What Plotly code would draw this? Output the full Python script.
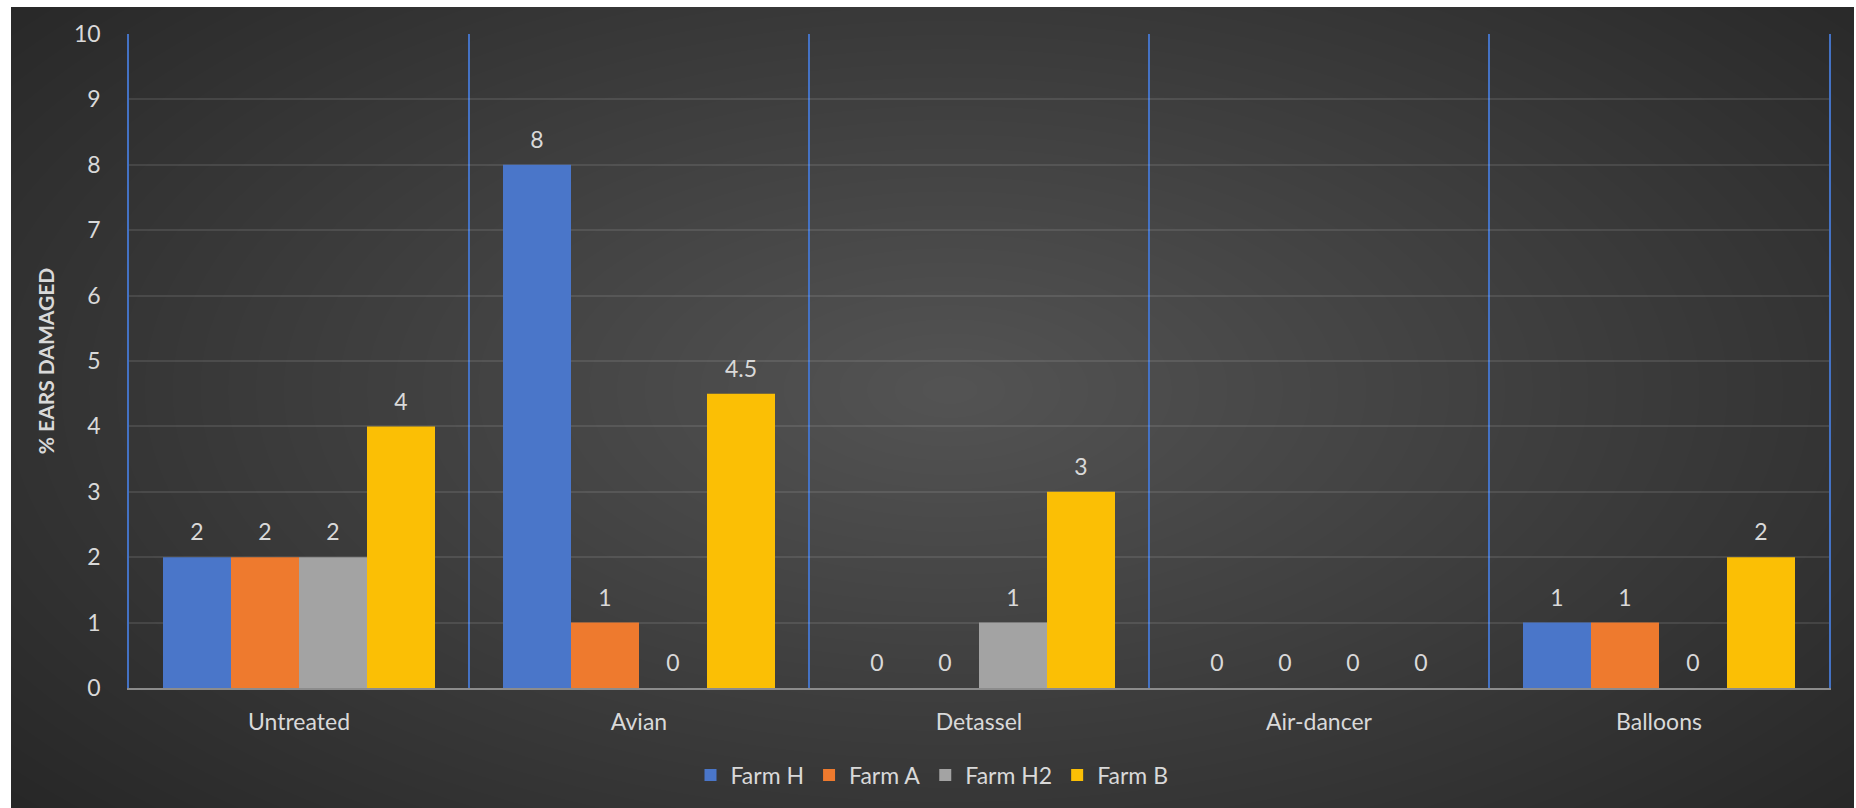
import plotly.graph_objects as go

# Bird-damage trial: percent of ears damaged per deterrent treatment and farm
treatments = ["Untreated", "Avian", "Detassel", "Air-dancer", "Balloons"]
farm_h = [2, 8, 0, 0, 1]
farm_a = [2, 1, 0, 0, 1]
farm_h2 = [2, 0, 1, 0, 0]
farm_b = [4, 4.5, 3, 0, 2]

series_names = ["Farm H", "Farm A", "Farm H2", "Farm B"]
series_values = [farm_h, farm_a, farm_h2, farm_b]
series_colors = ["#4a76c9", "#ee7a2e", "#a3a3a3", "#fbbf05"]

y_ticks = list(range(0, 11))

# Page geometry (pixels)
W, H = 1856, 808
ML, MR, MT, MB = 129, 27, 34, 120
PW, PH = W - ML - MR, H - MT - MB

def px_x(x):
    return (x - ML) / PW

def px_y(y):
    return (H - MB - y) / PH

FONT = "Lato"
FS = 23
TXT = "#d9d9d9"

fig = go.Figure()

for name, vals, col in zip(series_names, series_values, series_colors):
    fig.add_trace(go.Bar(
        x=treatments, y=vals, name=name, legendgroup=name,
        marker=dict(color=col, line=dict(width=0)),
    ))

# value labels, grouped the same way as the bars
for name, vals in zip(series_names, series_values):
    fig.add_trace(go.Scatter(
        x=treatments, y=vals, mode="markers+text", legendgroup=name,
        showlegend=False, hoverinfo="skip",
        text=[f"{v:g}" for v in vals], textposition="top center",
        textfont=dict(family=FONT, size=FS, color=TXT),
        marker=dict(size=16, color="rgba(0,0,0,0)"),
        cliponaxis=False,
    ))

# dark chart panel with a soft radial glow toward the middle
shapes = [dict(type="rect", xref="paper", yref="paper", layer="below",
               x0=px_x(11), x1=px_x(1854), y0=px_y(808), y1=px_y(7),
               fillcolor="#262626", line=dict(width=0))]
cx, cy, rx, ry = 950, 390, 1250, 640
n = 45
for k in range(n, 0, -1):
    f = k / n
    shapes.append(dict(type="circle", xref="paper", yref="paper", layer="below",
                       x0=px_x(cx - rx * f), x1=px_x(cx + rx * f),
                       y0=px_y(cy + ry * f), y1=px_y(cy - ry * f),
                       fillcolor="white", opacity=0.0092, line=dict(width=0)))

fig.update_layout(
    width=W, height=H,
    margin=dict(l=ML, r=MR, t=MT, b=MB, autoexpand=False),
    paper_bgcolor="white",
    plot_bgcolor="rgba(0,0,0,0)",
    barmode="group", bargap=0.2, bargroupgap=0,
    scattermode="group", scattergap=0.2,
    shapes=shapes,
    font=dict(family=FONT, size=FS, color=TXT),
    showlegend=True,
    legend=dict(orientation="h", x=px_x(932), xanchor="center", y=px_y(775), yanchor="middle",
                font=dict(family=FONT, size=FS, color=TXT), bgcolor="rgba(0,0,0,0)",
                traceorder="normal", itemclick=False),
    xaxis=dict(
        tickson="boundaries", showgrid=True, gridcolor="#4472C4", gridwidth=1.5,
        showline=True, linecolor="#8c8c8c", linewidth=2,
        ticks="", ticklabelstandoff=12,
        tickfont=dict(family=FONT, size=FS, color=TXT),
        zeroline=False, fixedrange=True,
    ),
    yaxis=dict(
        range=[0, 10], tickvals=y_ticks, showgrid=True,
        gridcolor="rgba(210,210,210,0.13)", gridwidth=1.5,
        showline=True, linecolor="#4472C4", linewidth=1.5, mirror=True,
        ticks="", ticklabelstandoff=22, zeroline=False,
        tickfont=dict(family=FONT, size=FS, color=TXT),
        title=dict(text="<b>% EARS DAMAGED</b>", standoff=14,
                   font=dict(family=FONT, size=21, color=TXT)),
        fixedrange=True,
    ),
)

fig.write_html("out.html")
